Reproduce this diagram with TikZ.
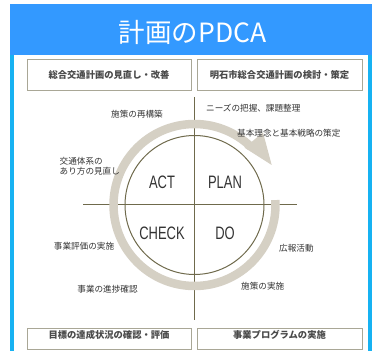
\documentclass[tikz,border=0pt]{standalone}
\usepackage{fontspec}
\setmainfont{Noto Sans CJK JP}
\newfontfamily\cjk{Noto Sans CJK JP}
\newfontfamily\narrowfont[FakeStretch=0.72]{Liberation Sans}
\definecolor{hdrblue}{HTML}{3399FF}
\definecolor{framecyan}{HTML}{17B2F2}
\definecolor{boxline}{HTML}{A9A796}
\definecolor{ringgray}{HTML}{D5D0C4}
\definecolor{olive}{HTML}{6F6A4C}
\definecolor{txt}{HTML}{333333}
\definecolor{boxtxt}{HTML}{4A4A4A}
\tikzset{
  topbox/.style={draw=boxline, line width=0.9pt, fill=white},
  boxlabel/.style={font=\cjk\fontsize{9.3}{11}\selectfont\bfseries, text=boxtxt, inner sep=0pt},
  smalllabel/.style={font=\cjk\fontsize{8.6}{11}\selectfont, text=txt, inner sep=0pt},
  pdcalabel/.style={font=\narrowfont\fontsize{18}{18}\selectfont, text=txt, inner sep=0pt},
  crossline/.style={draw=olive, line width=1pt}
}
\begin{document}
\begin{tikzpicture}[x=1pt,y=1pt]
\useasboundingbox (0,0) rectangle (374,350);
% frame
\draw[framecyan, line width=4pt] (12,344) rectangle (370,-10);
\fill[hdrblue] (10,346) rectangle (372,295);
\node[font=\cjk\fontsize{26.5}{26.5}\selectfont, text=white, inner sep=0pt] (title) at (192.5,317.5) {計画のPDCA};
% boxes
\node[topbox, minimum width=164pt, minimum height=31pt, inner sep=0pt] (b1) at (109,275.5) {};
\node[topbox, minimum width=165pt, minimum height=31pt, inner sep=0pt] (b2) at (279.5,275.5) {};
\node[topbox, minimum width=164pt, minimum height=21.5pt, inner sep=0pt] (b3) at (109,11.25) {};
\node[topbox, minimum width=165pt, minimum height=21.5pt, inner sep=0pt] (b4) at (279.5,11.25) {};
\node[boxlabel] (t1) at (b1.center) {総合交通計画の見直し・改善};
\node[boxlabel] (t2) at (b2.center) {明石市総合交通計画の検討・策定};
\node[boxlabel] (t3) at (109,15) {目標の達成状況の確認・評価};
\node[boxlabel] (t4) at (279.5,15) {事業プログラムの実施};
% cross
\coordinate (c) at (194.5,145);
\coordinate (hl) at (83,145);
\coordinate (hr) at (297,145);
\coordinate (vt) at (194.5,253);
\coordinate (vb) at (194.5,30);
\draw[crossline] (hl) -- (hr);
\draw[crossline] (vt) -- (vb);
% ring
\draw[ringgray, line width=8.5pt] ([shift={(3.5:81pt)}]c) arc[start angle=3.5, end angle=-314, radius=81pt];
\fill[ringgray] (244.5,202.3) -- (263,217.5) -- (271.7,185) -- cycle;
% inner circle
\draw[olive, line width=1pt] (c) circle[radius=69.5pt];
% PDCA
\node[pdcalabel] (act) at (162,168) {ACT};
\node[pdcalabel] (plan) at (225,168) {PLAN};
\node[pdcalabel] (check) at (162,117) {CHECK};
\node[pdcalabel] (do) at (225,117) {DO};
% labels
\node[smalllabel] (l1) at (137,236) {施策の再構築};
\node[smalllabel, anchor=west, align=left] (l2) at (59.5,184) {交通体系の\\[-1pt]あり方の見直し};
\node[smalllabel, anchor=west] (l3) at (206,242) {ニーズの把握、課題整理};
\node[smalllabel, anchor=west] (l4) at (237,217) {基本理念と基本戦略の策定};
\node[smalllabel] (l5) at (84,104) {事業評価の実施};
\node[smalllabel] (l6) at (107.5,61) {事業の進捗確認};
\node[smalllabel, anchor=west] (l7) at (279,102) {広報活動};
\node[smalllabel, anchor=west] (l8) at (241,64) {施策の実施};
\end{tikzpicture}
\end{document}
